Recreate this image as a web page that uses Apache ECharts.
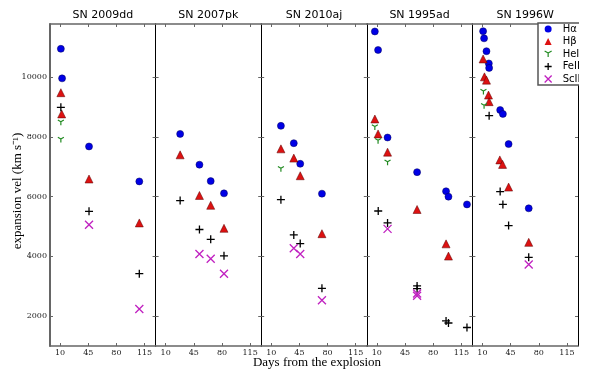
<!DOCTYPE html>
<html>
<head>
<meta charset="utf-8">
<script src="https://cdn.jsdelivr.net/npm/echarts@6/dist/echarts.min.js"></script>
<style>
  html, body { margin: 0; padding: 0; background: #fff; }
  #chart { width: 600px; height: 376px; }
</style>
</head>
<body>
<div id="chart"></div>
<script>
// panel names and spectral lines
const panels = ['SN 2009dd', 'SN 2007pk', 'SN 2010aj', 'SN 1995ad', 'SN 1996W']
const lines = ['Hα', 'Hβ', 'HeI', 'FeII', 'ScII']
const xTicks = [10, 45, 80, 115]
const yTicks = [2000, 4000, 6000, 8000, 10000]

// [days, velocity km/s]
const sn2009dd_Ha = [[11, 10950], [12.5, 9960], [46, 7680], [108.5, 6510]]
const sn2009dd_Hb = [[11, 9480], [12, 8770], [46, 6590], [108.5, 5120]]
const sn2009dd_HeI = [[11, 8480], [11, 7900]]
const sn2009dd_FeII = [[11, 8990], [46, 5510], [108.5, 3420]]
const sn2009dd_ScII = [[46, 5060], [108.5, 2240]]

const sn2007pk_Ha = [[28, 8100], [52, 7070], [66, 6520], [82.5, 6110]]
const sn2007pk_Hb = [[28, 7400], [52, 6040], [66, 5710], [82.5, 4940]]
const sn2007pk_HeI = []
const sn2007pk_FeII = [[28, 5870], [52, 4900], [66, 4570], [82.5, 4020]]
const sn2007pk_ScII = [[52, 4080], [66, 3920], [82.5, 3420]]

const sn2010aj_Ha = [[22, 8370], [38, 7790], [46, 7100], [73, 6100]]
const sn2010aj_Hb = [[22, 7600], [38, 7290], [46, 6700], [73, 4760]]
const sn2010aj_HeI = [[22, 6920]]
const sn2010aj_FeII = [[22, 5900], [38, 4720], [46, 4430], [73, 2930]]
const sn2010aj_ScII = [[38, 4270], [46, 4080], [73, 2530]]

const sn1995ad_Ha = [[7.5, 11530], [11.5, 10910], [23.3, 7980], [60, 6820], [96, 6180], [99, 6000], [122, 5740]]
const sn1995ad_Hb = [[7.5, 8600], [11.5, 8100], [23.3, 7490], [60, 5570], [96, 4420], [99, 4010]]
const sn1995ad_HeI = [[7.5, 8320], [11.5, 7860], [23.3, 7140]]
const sn1995ad_FeII = [[11.7, 5520], [23.3, 5120], [60, 3010], [60, 2920], [96, 1840], [99, 1770], [122, 1620]]
const sn1995ad_ScII = [[23.3, 4920], [60, 2760], [60, 2680]]

const sn1996W_Ha = [[10.8, 11540], [12, 11300], [15, 10870], [17.9, 10460], [18.3, 10310], [32, 8900], [35.4, 8770], [42.5, 7760], [67.5, 5610]]
const sn1996W_Hb = [[10.8, 10610], [12.5, 10010], [15, 9900], [17.5, 9400], [18.3, 9180], [31.6, 7230], [35, 7080], [42.5, 6320], [67.5, 4470]]
const sn1996W_HeI = [[11.2, 9510], [12, 9030]]
const sn1996W_FeII = [[18.3, 8710], [32, 6170], [35.4, 5740], [42.5, 5030], [67.5, 3970]]
const sn1996W_ScII = [[67.5, 3730]]

const panelData = [
  [sn2009dd_Ha, sn2009dd_Hb, sn2009dd_HeI, sn2009dd_FeII, sn2009dd_ScII],
  [sn2007pk_Ha, sn2007pk_Hb, sn2007pk_HeI, sn2007pk_FeII, sn2007pk_ScII],
  [sn2010aj_Ha, sn2010aj_Hb, sn2010aj_HeI, sn2010aj_FeII, sn2010aj_ScII],
  [sn1995ad_Ha, sn1995ad_Hb, sn1995ad_HeI, sn1995ad_FeII, sn1995ad_ScII],
  [sn1996W_Ha, sn1996W_Hb, sn1996W_HeI, sn1996W_FeII, sn1996W_ScII]
]

// marker styles (matplotlib-like)
const markers = [
  { symbol: 'circle', symbolSize: 7, itemStyle: { opacity: 1, color: '#0000e6', borderColor: '#00005a', borderWidth: 0.5 } },
  { symbol: 'triangle', symbolSize: 8, itemStyle: { opacity: 1, color: '#dd1111', borderColor: '#5a0000', borderWidth: 0.5 } },
  { symbol: 'path://M5,5L5,10M5,5L0.67,2.5M5,5L9.33,2.5', symbolSize: 6, symbolKeepAspect: true,
    itemStyle: { opacity: 1, color: 'rgba(0,0,0,0)', borderColor: '#228b22', borderWidth: 1.2 } },
  { symbol: 'path://M5,0L5,10M0,5L10,5', symbolSize: 8,
    itemStyle: { opacity: 1, color: 'rgba(0,0,0,0)', borderColor: '#000', borderWidth: 1.3 } },
  { symbol: 'path://M0,0L10,10M10,0L0,10', symbolSize: 8,
    itemStyle: { opacity: 1, color: 'rgba(0,0,0,0)', borderColor: '#c020c0', borderWidth: 1.3 } }
]

const plotLeft = 50
const panelW = 105.6
const tickFont = { fontSize: 8, fontFamily: 'DejaVu Serif', color: '#222' }

const grids = []
const xAxes = []
const yAxes = []
const series = []
const graphics = []

panels.forEach((name, i) => {
  const left = plotLeft + i * panelW
  grids.push({ left: left, top: 24, width: panelW, height: 322 })

  const xBase = {
    type: 'value', gridIndex: i, min: -2.5, max: 128.75,
    splitLine: { show: false },
    axisLine: { onZero: false, lineStyle: { color: '#666', width: 1.5 } },
    axisTick: { inside: true, length: 3, customValues: xTicks, lineStyle: { color: '#666' } }
  }
  xAxes.push(Object.assign({}, xBase, {
    position: 'bottom',
    axisLabel: Object.assign({ customValues: xTicks, margin: 3 }, tickFont)
  }))
  xAxes.push(Object.assign({}, xBase, { position: 'top', axisLabel: { show: false } }))

  const yBase = {
    type: 'value', gridIndex: i, min: 1000, max: 11780,
    splitLine: { show: false },
    axisTick: { inside: true, length: 3, customValues: yTicks, lineStyle: { color: '#666' } }
  }
  yAxes.push(Object.assign({}, yBase, {
    position: 'left',
    axisLine: { onZero: false, lineStyle: { color: i === 0 ? '#666' : '#000', width: i === 0 ? 2 : 1 } },
    axisLabel: i === 0
      ? Object.assign({ customValues: yTicks, margin: 3, formatter: v => String(v) }, tickFont)
      : { show: false },
    name: i === 0 ? 'expansion vel (km s⁻¹)' : '',
    nameLocation: 'middle',
    nameGap: 26,
    nameRotate: 90,
    nameMoveOverlap: false,
    nameTextStyle: { fontSize: 13, fontFamily: 'Liberation Serif', color: '#000', padding: [0, 12, 0, 0] }
  }))
  yAxes.push(Object.assign({}, yBase, {
    position: 'right',
    axisLine: { onZero: false, lineStyle: { color: '#000', width: 1 } },
    axisLabel: { show: false }
  }))

  lines.forEach((ln, j) => {
    series.push(Object.assign({
      name: ln,
      type: 'scatter',
      xAxisIndex: 2 * i,
      yAxisIndex: 2 * i,
      data: panelData[i][j],
      z: 5 + j
    }, markers[j]))
  })

  graphics.push({
    type: 'text', x: left + panelW / 2, y: 10,
    style: { text: name, font: '11px "DejaVu Sans"', fill: '#000', align: 'center' }
  })
})

graphics.push({
  type: 'text', x: 317, y: 356,
  style: { text: 'Days from the explosion', font: '13px "Liberation Serif"', fill: '#000', align: 'center' }
})
// the figure is cut at the right edge of the last panel
graphics.push({
  type: 'rect', z: 100, shape: { x: 579, y: 0, width: 30, height: 376 },
  style: { fill: '#fff' }
})

const chart = echarts.init(document.getElementById('chart'))
chart.setOption({
  animation: false,
  backgroundColor: '#fff',
  grid: grids,
  xAxis: xAxes,
  yAxis: yAxes,
  legend: {
    data: lines.map((ln, j) => ({
      name: ln,
      itemStyle: Object.assign({}, markers[j].itemStyle, j < 2 ? { borderWidth: 0 } : {})
    })),
    orient: 'vertical',
    left: 538,
    top: 23,
    itemWidth: 7,
    itemHeight: 7,
    itemGap: 2.5,
    padding: [1, 4, 1, 6],
    borderColor: '#555',
    borderWidth: 1.5,
    backgroundColor: '#fff',
    selectedMode: false,
    textStyle: { fontSize: 10, lineHeight: 10, fontFamily: 'DejaVu Sans', color: '#000', padding: [0, 0, 0, 6] }
  },
  graphic: graphics,
  series: series
})
</script>
</body>
</html>
